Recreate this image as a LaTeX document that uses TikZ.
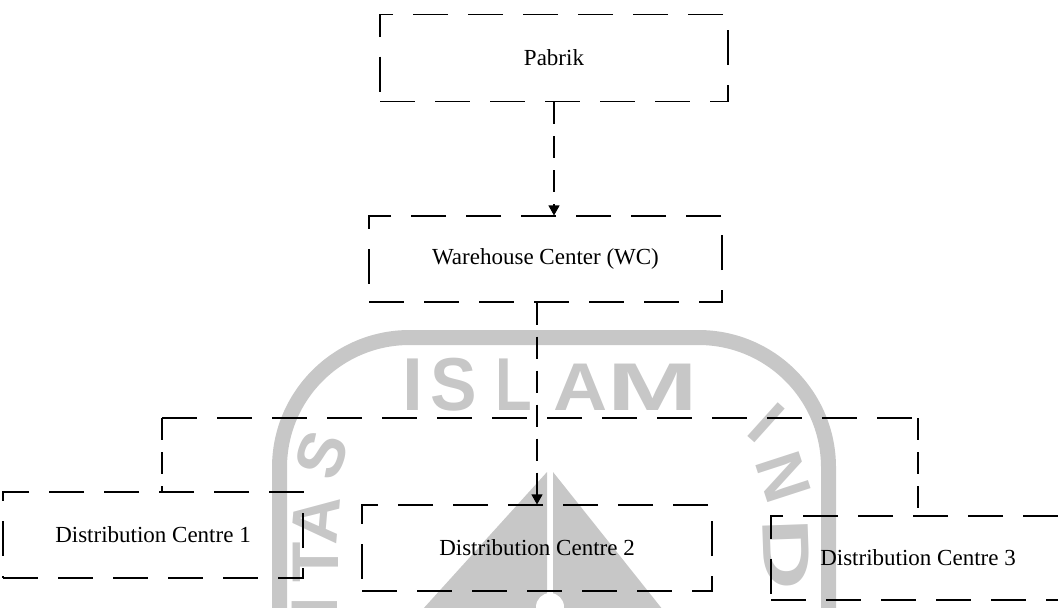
\documentclass[tikz,border=0pt]{standalone}
\usepackage{fontspec}
\setmainfont{Liberation Serif}
\newfontfamily\wmfont{Liberation Sans}
\usepackage{graphicx}
\usetikzlibrary{arrows.meta}
\begin{document}
\begin{tikzpicture}[x=0.5pt,y=-0.5pt,
  box/.style={draw, line width=0.55pt, dash pattern=on 17.5pt off 10pt, inner sep=0pt, font=\fontsize{11.5}{14}\selectfont},
  vconn/.style={draw, line width=0.55pt, dash pattern=on 11pt off 6pt},
  hconn/.style={draw, line width=0.55pt, dash pattern=on 17.5pt off 10pt},
  tip/.style={-{Triangle[width=5.5pt,length=5pt]}},
  wm/.style={text=black!22, inner sep=0pt},
  wmring/.style={draw=black!22, line width=7.5pt, rounded corners=65pt},
  wmfill/.style={fill=black!22, draw=none},
]
\useasboundingbox (0,0) rectangle (1058,607);
\clip (0,0) rectangle (1058,607);
% ---- watermark ----
\draw[wmring] (279.5,650) |- (554,337.5) -| (828.5,650);
\fill[wmfill] (547,472) -- (413,620) -- (547,620) -- cycle;
\fill[wmfill] (553,472) -- (553,620) -- (671,620) -- cycle;
\fill[white] (550,607) circle (7pt);
\tikzset{wmtop/.style={wm, anchor=base, font=\wmfont\bfseries\fontsize{37.5}{37.5}\selectfont}}
\node[wmtop] (wI) at (413,410) {I};
\node[wmtop] (wS) at (454,410) {\scalebox{0.93}[1]{S}};
\node[wmtop] (wL) at (514,410) {\scalebox{0.8}[1]{L}};
\node[wmtop] (wA) at (581,410) {\scalebox{1}[0.9]{A}};
\node[wmtop] (wM) at (653,410) {\scalebox{1.45}[0.9]{M}};
\tikzset{wmside/.style={wm, font=\wmfont\bfseries\fontsize{33}{33}\selectfont}}
\node[wmside, rotate=70] (lS) at (322,455) {S};
\node[wmside, rotate=85] (lA) at (316,520) {A};
\node[wmside, rotate=90] (lT) at (316,562) {T};
\node[wmside, rotate=90] (lI) at (315,606) {I};
\node[wmside, rotate=-42] (rI) at (766,423) {I};
\node[wmside, rotate=-72] (rN) at (783,477) {N};
\node[wmside, rotate=-88] (rD) at (786,554) {\scalebox{1.5}[1]{D}};
% ---- diagram ----
\node[box, minimum width=174pt, minimum height=43.5pt] (pabrik) at (554,58) {Pabrik};
\node[box, minimum width=176.5pt, minimum height=43pt] (wc) at (545.5,259) {Warehouse Center (WC)};
\node[box, minimum width=150pt, minimum height=43pt] (dc1) at (153,535) {Distribution Centre 1};
\node[box, minimum width=175pt, minimum height=43pt] (dc2) at (537,548) {Distribution Centre 2};
\node[box, minimum width=147pt, minimum height=42pt] (dc3) at (918,558) {Distribution Centre 3};
\coordinate (jl) at (162,418);
\coordinate (jr) at (918,418);
\draw[vconn, tip] (pabrik.south) -- (pabrik.south |- wc.north);
\draw[vconn, tip] (wc.south -| dc2.north) -- (dc2.north);
\draw[hconn] (jl) -- (jr);
\draw[vconn] (jl) -- (jl |- dc1.north);
\draw[vconn] (jr) -- (dc3.north);
\end{tikzpicture}
\end{document}
